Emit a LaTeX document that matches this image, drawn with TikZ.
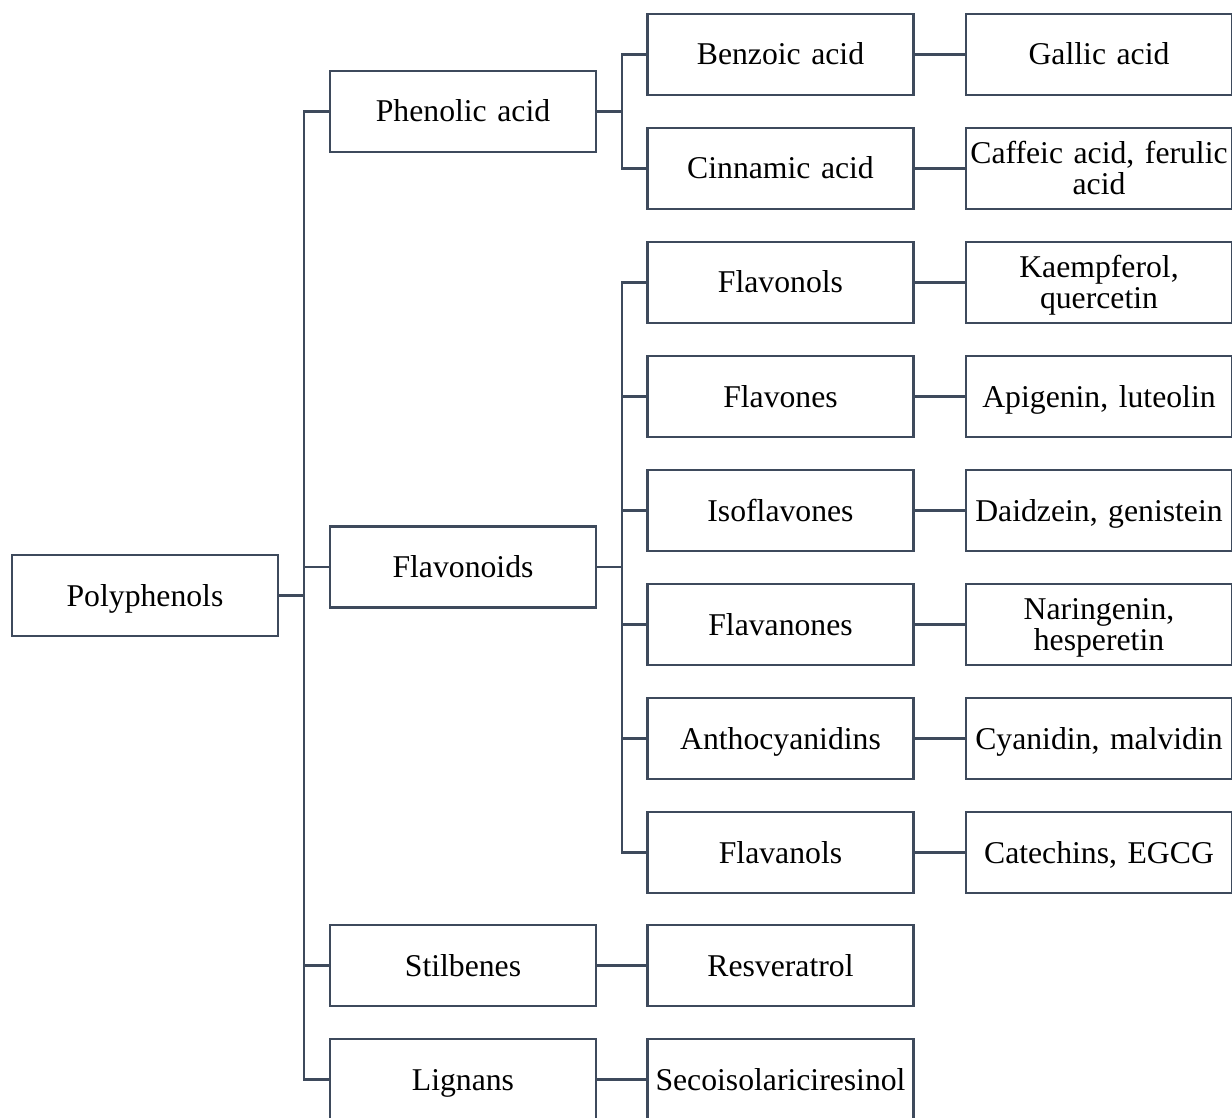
\documentclass[tikz,border=0pt]{standalone}
\usepackage{fontspec}
\setmainfont{Liberation Serif}
\definecolor{linegray}{HTML}{3E4A5C}
\newcommand{\topstrut}{\rule{0pt}{28.5pt}}
\newcommand{\botstrut}{\rule[-7.5pt]{0pt}{7.5pt}}

\begin{document}
\begin{tikzpicture}[x=1pt,y=-1pt]
\tikzstyle{every node}+=[font=\fontsize{31.7}{31}\selectfont]
\tikzstyle{box}=[draw=linegray, line width=2.5pt, minimum width=266pt, minimum height=81pt, inner sep=3pt, text width=260pt, align=center, execute at begin node=\topstrut, execute at end node=\botstrut]
\tikzstyle{link}=[draw=linegray, line width=2.5pt]
\useasboundingbox (0,0) rectangle (1232,1118);
% root
\node [box] (poly) at (145,595.5) {Polyphenols};
% classes
\node [box] (phen) at (463,111.5) {Phenolic acid};
\node [box] (flavd) at (463,567) {Flavonoids};
\node [box] (stil) at (463,965.5) {Stilbenes};
\node [box] (lig) at (463,1079.5) {Lignans};
% subclasses
\node [box] (benz) at (780.5,54.5) {Benzoic acid};
\node [box] (cinn) at (780.5,168.5) {Cinnamic acid};
\node [box] (fnol) at (780.5,282.5) {Flavonols};
\node [box] (fone) at (780.5,396.5) {Flavones};
\node [box] (ifl) at (780.5,510.5) {Isoflavones};
\node [box] (fnon) at (780.5,624.5) {Flavanones};
\node [box] (anth) at (780.5,738.5) {Anthocyanidins};
\node [box] (fanl) at (780.5,852.5) {Flavanols};
\node [box] (resv) at (780.5,965.5) {Resveratrol};
\node [box] (seco) at (780.5,1079.5) {Secoisolariciresinol};
% examples
\node [box] (gall) at (1099,54.5) {Gallic acid};
\node [box] (caff) at (1099,168.5) {Caffeic acid, ferulic\\acid};
\node [box] (kaem) at (1099,282.5) {Kaempferol,\\quercetin};
\node [box] (apig) at (1099,396.5) {Apigenin, luteolin};
\node [box] (daid) at (1099,510.5) {Daidzein, genistein};
\node [box] (nar) at (1099,624.5) {Naringenin,\\hesperetin};
\node [box] (cyan) at (1099,738.5) {Cyanidin, malvidin};
\node [box] (cat) at (1099,852.5) {Catechins, EGCG};
% buses
\coordinate (b0) at (304,0);
\coordinate (b1) at (622,0);
\draw [link] (poly.east) -- (b0 |- poly.east);
\draw [link, line cap=rect] (b0 |- phen.west) -- (b0 |- lig.west);
\foreach \n in {phen,flavd,stil,lig}
  \draw [link] (b0 |- \n.west) -- (\n.west);
\draw [link] (phen.east) -- (b1 |- phen.east);
\draw [link, line cap=rect] (b1 |- benz.west) -- (b1 |- cinn.west);
\foreach \n in {benz,cinn}
  \draw [link] (b1 |- \n.west) -- (\n.west);
\draw [link] (flavd.east) -- (b1 |- flavd.east);
\draw [link, line cap=rect] (b1 |- fnol.west) -- (b1 |- fanl.west);
\foreach \n in {fnol,fone,ifl,fnon,anth,fanl}
  \draw [link] (b1 |- \n.west) -- (\n.west);
\draw [link] (stil) -- (resv);
\draw [link] (lig) -- (seco);
% leaves
\draw [link] (benz) -- (gall);
\draw [link] (cinn) -- (caff);
\draw [link] (fnol) -- (kaem);
\draw [link] (fone) -- (apig);
\draw [link] (ifl) -- (daid);
\draw [link] (fnon) -- (nar);
\draw [link] (anth) -- (cyan);
\draw [link] (fanl) -- (cat);
\end{tikzpicture}
\end{document}
